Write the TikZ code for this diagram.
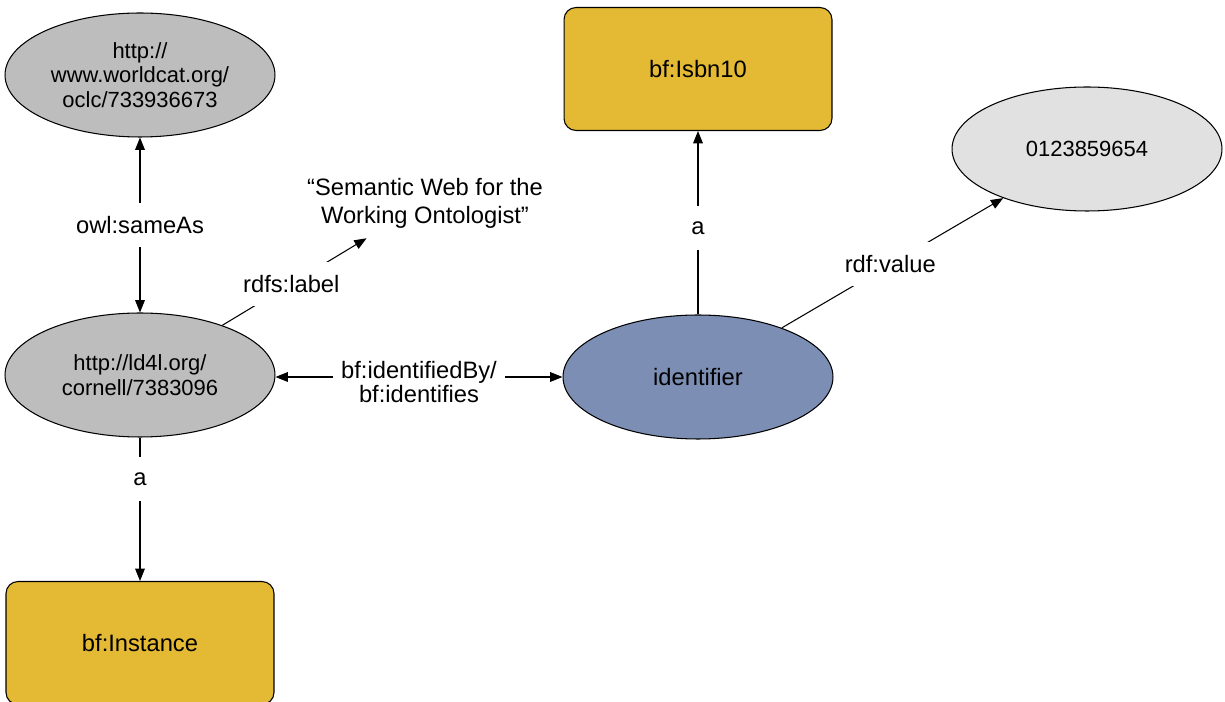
\documentclass[tikz,border=0pt]{standalone}
\usepackage{fontspec}
\setmainfont{Liberation Sans}
\usetikzlibrary{arrows.meta,shapes.geometric}

\definecolor{uriGray}{RGB}{189,189,189}
\definecolor{litGray}{RGB}{225,225,225}
\definecolor{clsYellow}{RGB}{228,185,51}
\definecolor{idBlue}{RGB}{124,142,179}

\tikzset{
  uri/.style={ellipse, draw, line width=0.6pt, fill=uriGray, minimum width=5.4cm,
    minimum height=2.48cm, inner sep=0pt, align=center,
    font=\fontsize{12.5}{14}\selectfont},
  cls/.style={rectangle, rounded corners=0.24cm, draw, line width=0.6pt, fill=clsYellow,
    minimum width=5.36cm, minimum height=2.46cm, font=\fontsize{13.5}{16}\selectfont},
  lbl/.style={fill=white, inner xsep=4.5pt, inner ysep=0pt, minimum height=0.88cm,
    align=center, font=\fontsize{13.5}{13.8}\selectfont},
  rel/.style={line width=0.6pt, -{Triangle[length=7pt,width=5.5pt]}},
  birel/.style={line width=0.6pt, {Triangle[length=7pt,width=5.5pt]}-{Triangle[length=7pt,width=5.5pt]}}
}

\begin{document}
\begin{tikzpicture}[x=0.02cm, y=-0.02cm]
    \useasboundingbox (0,0) rectangle (1225,702);

    % nodes
    \node [uri] (worldcat) at (140,75) {http://\\www.worldcat.org/\\oclc/733936673};
    \node [uri] (inst) at (140,375) {http://ld4l.org/\\cornell/7383096};
    \node [cls] (instcls) at (140,643) {bf:Instance};
    \node [cls] (isbncls) at (698,69) {bf:Isbn10};
    \node [uri, fill=idBlue, font=\fontsize{13.5}{16}\selectfont] (ident) at (698,377) {identifier};
    \node [uri, fill=litGray] (value) at (1087,149) {0123859654};
    \node [align=center, inner sep=0pt, font=\fontsize{13.5}{16}\selectfont] (title) at (425,203)
        {“Semantic Web for the\\Working Ontologist”};

    % edges
    \draw [birel] (worldcat) -- node [lbl] {owl:sameAs} (inst);
    \draw [rel] (inst) -- node [lbl, pos=0.29] {a} (instcls);
    \draw [rel, shorten >=0.38cm] (inst) -- node [lbl, pos=0.43] {rdfs:label} (title);
    \draw [birel] (inst.east |- ident.west) -- node [lbl, yshift=-0.1cm] {bf:identifiedBy/\\bf:identifies} (ident.west);
    \draw [rel] (ident) -- node [lbl, pos=0.47] {a} (isbncls);
    \draw [rel] (ident) -- node [lbl, pos=0.49] {rdf:value} (value);
\end{tikzpicture}
\end{document}
